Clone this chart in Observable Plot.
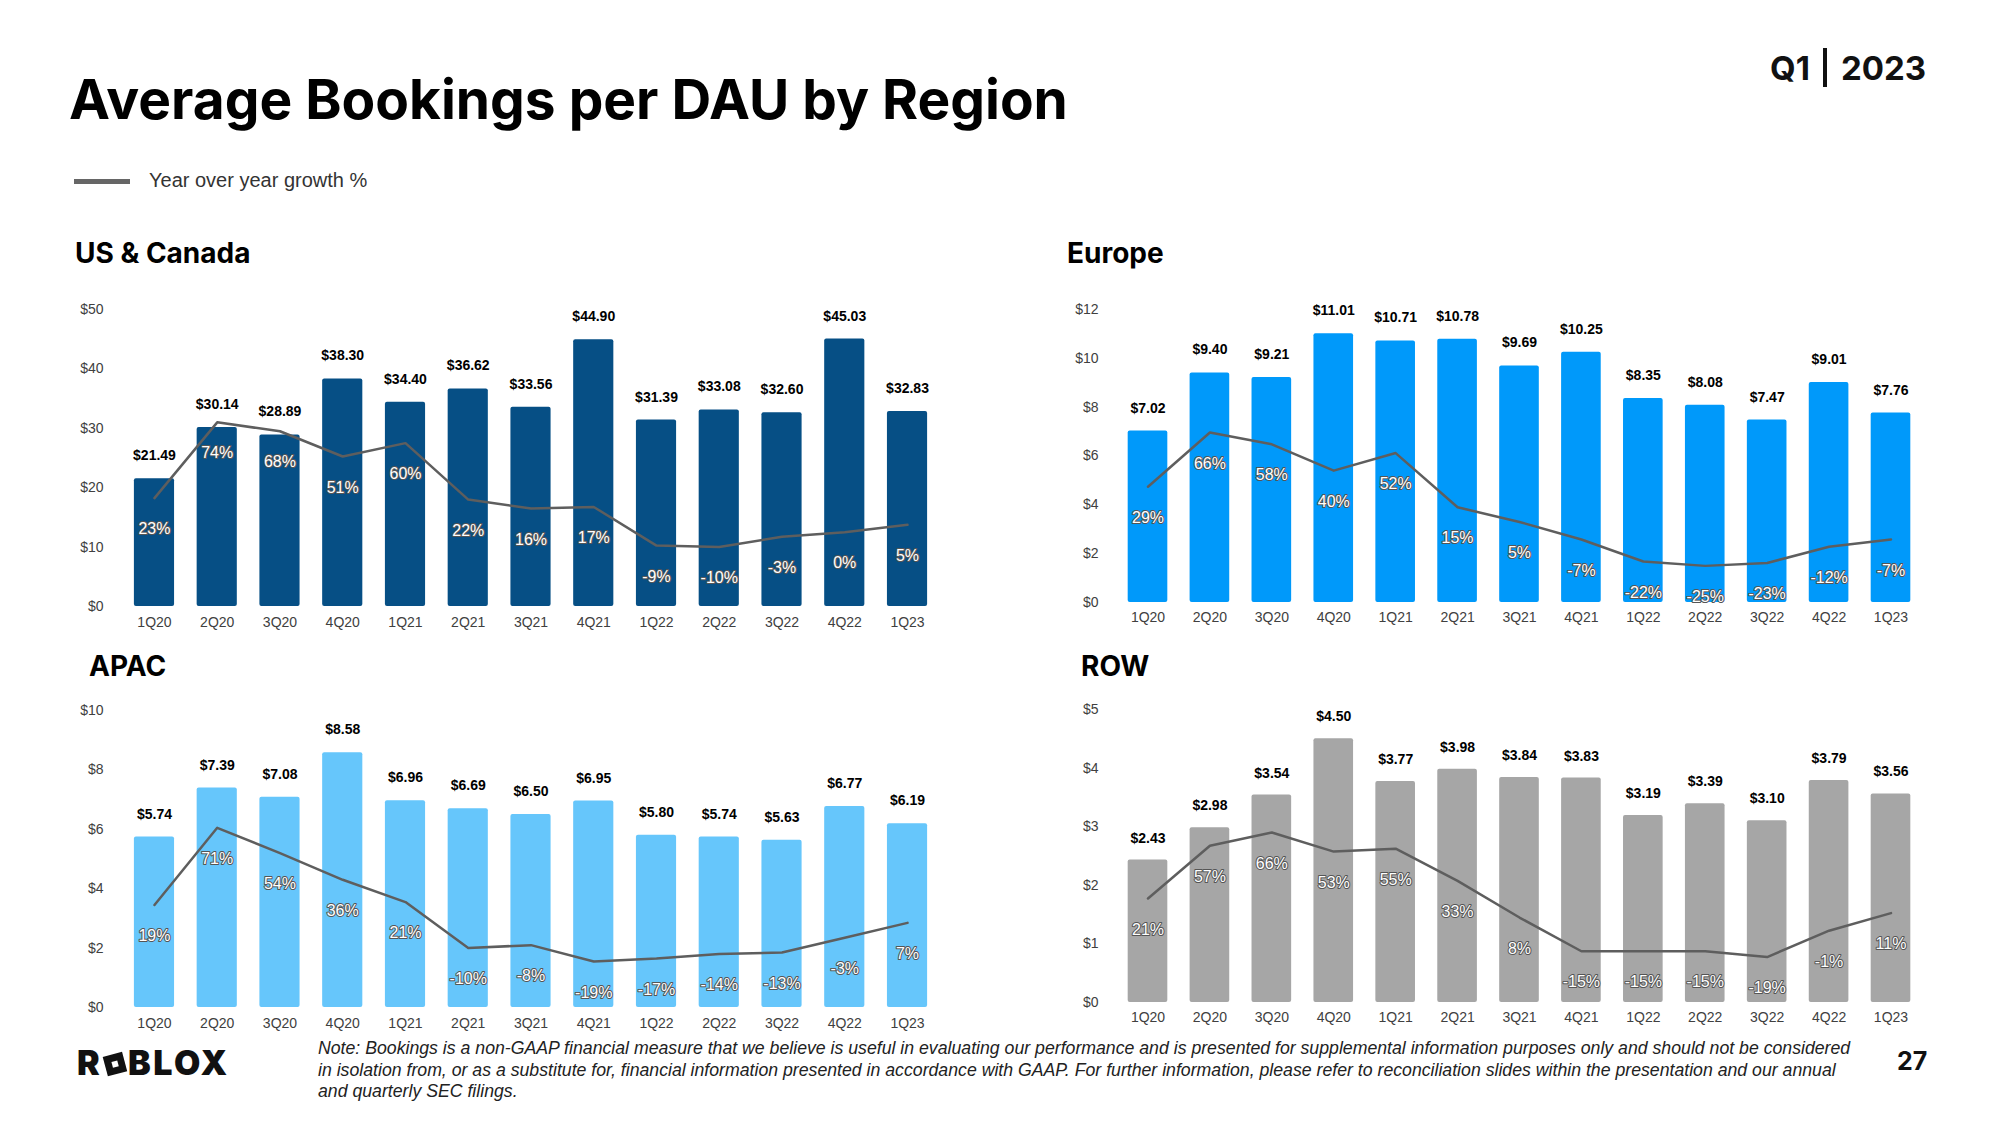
<!DOCTYPE html>
<html>
<head>
<meta charset="utf-8">
<script src="https://cdn.jsdelivr.net/npm/d3@7"></script>
<script src="https://cdn.jsdelivr.net/npm/@observablehq/plot@0.6"></script>
<style>
  body { margin: 0; background: #fff; }
  #page { position: relative; width: 2000px; height: 1125px; overflow: hidden; background: #fff; font-family: Inter, "Liberation Sans", sans-serif; }
  .abs { position: absolute; line-height: 1; white-space: nowrap; }
  .ptitle { font-size: 28px; font-weight: 700; color: #000; }
  .note { font-family: "Liberation Sans", Arial, sans-serif; font-style: italic; font-size: 17.7px; line-height: 21.5px; color: #222; }
  .logo-o { display: inline-block; width: 0.6em; height: 0.6em; background: #111; transform: rotate(-15deg); margin: 0 0.08em 0 0.08em; position: relative; vertical-align: 0.02em; }
  .logo-o::after { content: ""; position: absolute; left: 50%; top: 50%; width: 0.17em; height: 0.17em; background: #fff; transform: translate(-50%, -50%); }
  .plotwrap { position: absolute; }
</style>
</head>
<body>
<div id="page">
  <div class="abs" style="left:69px;top:72px;font-size:55px;font-weight:700;color:#000;">Average Bookings per DAU by Region</div>
  <div class="abs" style="left:1770px;top:52px;font-size:33px;font-weight:700;color:#111;">Q1</div>
  <div class="abs" style="left:1823px;top:48px;width:4px;height:39px;background:#111;"></div>
  <div class="abs" style="left:1841px;top:52px;font-size:33px;font-weight:700;color:#111;">2023</div>

  <div class="abs" style="left:74px;top:179px;width:56px;height:5px;background:#666;"></div>
  <div class="abs" style="left:149px;top:170px;font-family:'Liberation Sans',Arial,sans-serif;font-size:20px;color:#333;">Year over year growth %</div>

  <div class="abs ptitle" style="left:75px;top:239px;">US &amp; Canada</div>
  <div class="abs ptitle" style="left:1067px;top:239px;">Europe</div>
  <div class="abs ptitle" style="left:89px;top:652px;">APAC</div>
  <div class="abs ptitle" style="left:1081px;top:652px;">ROW</div>

  <div class="abs" style="left:77px;top:1046px;font-size:34px;font-weight:900;color:#111;letter-spacing:2.5px;">R<span class="logo-o"></span>BLOX</div>
  <div class="abs note" style="left:318px;top:1038px;">Note: Bookings is a non-GAAP financial measure that we believe is useful in evaluating our performance and is presented for supplemental information purposes only and should not be considered<br>in isolation from, or as a substitute for, financial information presented in accordance with GAAP. For further information, please refer to reconciliation slides within the presentation and our annual<br>and quarterly SEC filings.</div>
  <div class="abs" style="left:1897px;top:1049px;font-size:25px;font-weight:700;color:#111;">27</div>
</div>
<script>
const quarters = ["1Q20","2Q20","3Q20","4Q20","1Q21","2Q21","3Q21","4Q21","1Q22","2Q22","3Q22","4Q22","1Q23"];

const usValues     = [21.49, 30.14, 28.89, 38.30, 34.40, 36.62, 33.56, 44.90, 31.39, 33.08, 32.60, 45.03, 32.83];
const usGrowth     = [23, 74, 68, 51, 60, 22, 16, 17, -9, -10, -3, 0, 5];
const euValues     = [7.02, 9.40, 9.21, 11.01, 10.71, 10.78, 9.69, 10.25, 8.35, 8.08, 7.47, 9.01, 7.76];
const euGrowth     = [29, 66, 58, 40, 52, 15, 5, -7, -22, -25, -23, -12, -7];
const apacValues   = [5.74, 7.39, 7.08, 8.58, 6.96, 6.69, 6.50, 6.95, 5.80, 5.74, 5.63, 6.77, 6.19];
const apacGrowth   = [19, 71, 54, 36, 21, -10, -8, -19, -17, -14, -13, -3, 7];
const rowValues    = [2.43, 2.98, 3.54, 4.50, 3.77, 3.98, 3.84, 3.83, 3.19, 3.39, 3.10, 3.79, 3.56];
const rowGrowth    = [21, 57, 66, 53, 55, 33, 8, -15, -15, -15, -19, -1, 11];

const usTicks   = [0, 10, 20, 30, 40, 50];
const euTicks   = [0, 2, 4, 6, 8, 10, 12];
const apacTicks = [0, 2, 4, 6, 8, 10];
const rowTicks  = [0, 1, 2, 3, 4, 5];
const growthDomain = [-50, 150];

const panels = [
  {values: usValues, growth: usGrowth, ticks: usTicks, color: "#064f85",
   left: 40, top: 280, w: 940, h: 370, ml: 73, mr: 32, mt: 29, mb: 44, po: 0.333, xpad: 11, vdy: -23},
  {values: euValues, growth: euGrowth, ticks: euTicks, color: "#0099fa",
   left: 1040, top: 280, w: 940, h: 370, ml: 68, mr: 50, mt: 29, mb: 48, po: 0.318, xpad: 10, vdy: -23},
  {values: apacValues, growth: apacGrowth, ticks: apacTicks, color: "#66c6fb",
   left: 40, top: 680, w: 940, h: 370, ml: 73, mr: 32, mt: 30, mb: 43, po: 0.333, xpad: 11, vdy: -23},
  {values: rowValues, growth: rowGrowth, ticks: rowTicks, color: "#a6a6a6",
   left: 1040, top: 680, w: 940, h: 370, ml: 68, mr: 50, mt: 29, mb: 48, po: 0.318, xpad: 10, vdy: -22}
];

const page = document.getElementById("page");

for (const p of panels) {
  const data = quarters.map((q, i) => ({q, v: p.values[i], g: p.growth[i]}));
  const common = {
    width: p.w, height: p.h,
    marginLeft: p.ml, marginRight: p.mr, marginTop: p.mt, marginBottom: p.mb,
    style: {fontFamily: "'Liberation Sans', Arial, sans-serif", fontSize: "14px", color: "#404040", background: "transparent", overflow: "visible"}
  };
  const xScale = {type: "band", domain: quarters, paddingInner: 0.36, paddingOuter: p.po, round: false};
  const bars = Plot.plot({
    ...common,
    x: {...xScale, label: null, tickSize: 0, tickPadding: p.xpad},
    y: {domain: [0, p.ticks[p.ticks.length - 1]], ticks: p.ticks, tickFormat: d => "$" + d, label: null, tickSize: 0, tickPadding: 10},
    marks: [
      Plot.barY(data, {x: "q", y: "v", fill: p.color, rx: 2}),
      Plot.text(data, {x: "q", y: "v", text: d => "$" + d.v.toFixed(2), dy: p.vdy, fontWeight: "bold", fill: "#000", fontSize: 14})
    ]
  });
  const line = Plot.plot({
    ...common,
    x: {...xScale, axis: null},
    y: {domain: growthDomain, axis: null},
    marks: [
      Plot.line(data, {x: "q", y: "g", stroke: "#5e5e5e", strokeWidth: 2.5}),
      Plot.text(data, {x: "q", y: "g", text: d => d.g + "%", dy: 31, fill: "#fff", stroke: "#555", strokeWidth: 2, fontSize: 16})
    ]
  });
  for (const svg of [bars, line]) {
    const wrap = document.createElement("div");
    wrap.className = "plotwrap";
    wrap.style.left = p.left + "px";
    wrap.style.top = p.top + "px";
    wrap.appendChild(svg);
    page.appendChild(wrap);
  }
}
</script>
</body>
</html>
